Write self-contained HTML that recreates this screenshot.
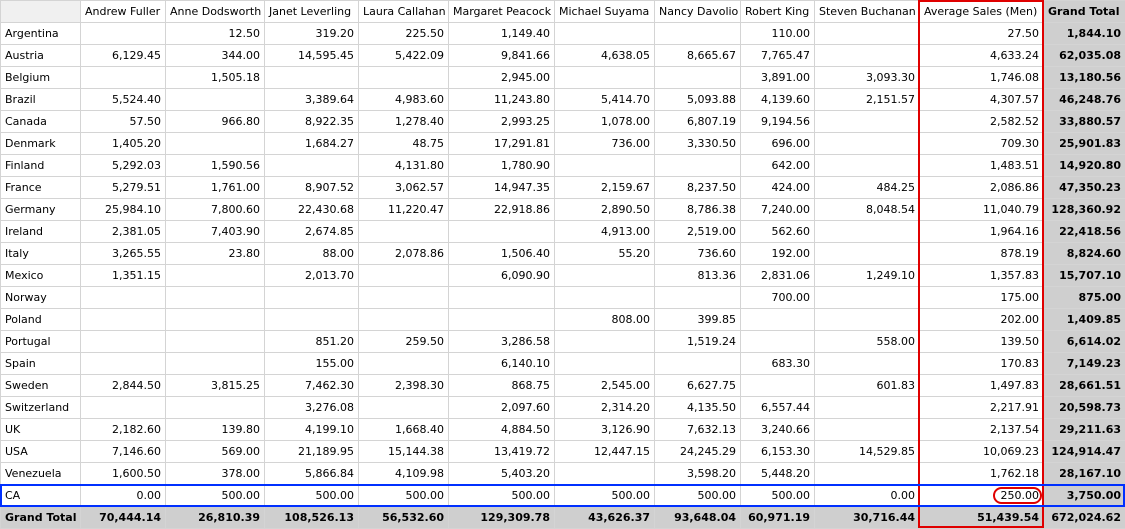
<!DOCTYPE html>
<html><head><meta charset="utf-8">
<style>
body{margin:0;width:1125px;height:529px;overflow:hidden;background:#fff;font-family:"DejaVu Sans","Liberation Sans",sans-serif;font-size:11px;color:#000}
#wrap{position:relative;width:1125px;height:529px}
table{border-collapse:collapse;table-layout:fixed;position:absolute;left:0;top:0}
td{height:21px;border:1px solid #d4d4d4;padding:0 4px;white-space:nowrap;overflow:hidden;text-align:right;box-sizing:content-box;line-height:20px}
td.l{text-align:left}
tr.h td{text-align:left}
td.g{background:#cfcfcf;font-weight:bold}
td.c{background:#f0f0f0}
#red{position:absolute;left:918px;top:0;width:122px;height:524px;border:2px solid #e00000}
#blue{position:absolute;left:0;top:484px;width:1121px;height:19px;border:2px solid #0030ff}
#oval{position:absolute;left:993px;top:487px;width:45px;height:13px;border:2px solid #e00000;border-radius:10px}
</style></head><body>
<div id="wrap">
<table id="t"></table>
<div id="red"></div>
<div id="blue"></div>
<div id="oval"></div>
</div>
<script>
const widths=[80,85,99,94,90,106,100,86,74,105,124,82];
const headers=["","Andrew Fuller","Anne Dodsworth","Janet Leverling","Laura Callahan","Margaret Peacock","Michael Suyama","Nancy Davolio","Robert King","Steven Buchanan","Average Sales (Men)","Grand Total"];
const rows=[
"Argentina||12.50|319.20|225.50|1,149.40|||110.00||27.50|1,844.10",
"Austria|6,129.45|344.00|14,595.45|5,422.09|9,841.66|4,638.05|8,665.67|7,765.47||4,633.24|62,035.08",
"Belgium||1,505.18|||2,945.00|||3,891.00|3,093.30|1,746.08|13,180.56",
"Brazil|5,524.40||3,389.64|4,983.60|11,243.80|5,414.70|5,093.88|4,139.60|2,151.57|4,307.57|46,248.76",
"Canada|57.50|966.80|8,922.35|1,278.40|2,993.25|1,078.00|6,807.19|9,194.56||2,582.52|33,880.57",
"Denmark|1,405.20||1,684.27|48.75|17,291.81|736.00|3,330.50|696.00||709.30|25,901.83",
"Finland|5,292.03|1,590.56||4,131.80|1,780.90|||642.00||1,483.51|14,920.80",
"France|5,279.51|1,761.00|8,907.52|3,062.57|14,947.35|2,159.67|8,237.50|424.00|484.25|2,086.86|47,350.23",
"Germany|25,984.10|7,800.60|22,430.68|11,220.47|22,918.86|2,890.50|8,786.38|7,240.00|8,048.54|11,040.79|128,360.92",
"Ireland|2,381.05|7,403.90|2,674.85|||4,913.00|2,519.00|562.60||1,964.16|22,418.56",
"Italy|3,265.55|23.80|88.00|2,078.86|1,506.40|55.20|736.60|192.00||878.19|8,824.60",
"Mexico|1,351.15||2,013.70||6,090.90||813.36|2,831.06|1,249.10|1,357.83|15,707.10",
"Norway||||||||700.00||175.00|875.00",
"Poland||||||808.00|399.85|||202.00|1,409.85",
"Portugal|||851.20|259.50|3,286.58||1,519.24||558.00|139.50|6,614.02",
"Spain|||155.00||6,140.10|||683.30||170.83|7,149.23",
"Sweden|2,844.50|3,815.25|7,462.30|2,398.30|868.75|2,545.00|6,627.75||601.83|1,497.83|28,661.51",
"Switzerland|||3,276.08||2,097.60|2,314.20|4,135.50|6,557.44||2,217.91|20,598.73",
"UK|2,182.60|139.80|4,199.10|1,668.40|4,884.50|3,126.90|7,632.13|3,240.66||2,137.54|29,211.63",
"USA|7,146.60|569.00|21,189.95|15,144.38|13,419.72|12,447.15|24,245.29|6,153.30|14,529.85|10,069.23|124,914.47",
"Venezuela|1,600.50|378.00|5,866.84|4,109.98|5,403.20||3,598.20|5,448.20||1,762.18|28,167.10",
"CA|0.00|500.00|500.00|500.00|500.00|500.00|500.00|500.00|0.00|250.00|3,750.00",
"Grand Total|70,444.14|26,810.39|108,526.13|56,532.60|129,309.78|43,626.37|93,648.04|60,971.19|30,716.44|51,439.54|672,024.62"];
const t=document.getElementById('t');
const cg=document.createElement('colgroup');
widths.forEach(w=>{const c=document.createElement('col');c.style.width=w+'px';cg.appendChild(c);});
t.appendChild(cg);
t.style.width=widths.reduce((a,b)=>a+b,0)+'px';
const hr=document.createElement('tr');hr.className='h';


headers.forEach((h,i)=>{const td=document.createElement('td');td.textContent=h;
if(i===0)td.className='c';if(i===11)td.className='g';


hr.appendChild(td);});
t.appendChild(hr);
rows.forEach((r,ri)=>{const cells=r.split('|');const tr=document.createElement('tr');
const last=ri===rows.length-1;


cells.forEach((v,i)=>{const td=document.createElement('td');td.textContent=v;
let cls=[];if(i===0)cls.push('l');if(i===11||last)cls.push('g');td.className=cls.join(' ');


tr.appendChild(td);});
t.appendChild(tr);});
</script>
</body></html>
